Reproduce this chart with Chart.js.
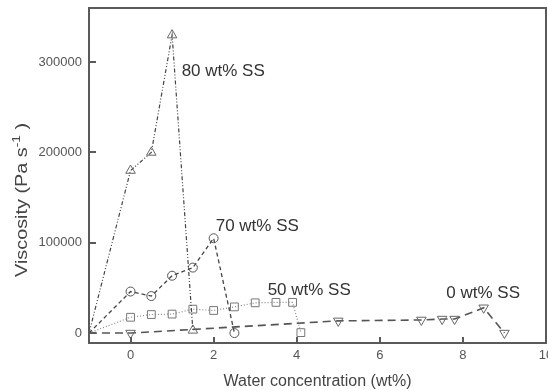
<!DOCTYPE html>
<html>
<head>
<meta charset="utf-8">
<script src="https://cdn.jsdelivr.net/npm/chart.js@4.4.1/dist/chart.umd.min.js"></script>
<style>
	html, body { margin: 0; padding: 0; background: #fff; overflow: hidden; }
	#wrap { width: 548px; height: 391px; overflow: hidden; }
</style>
</head>
<body>
<div id="wrap"><canvas id="mychart" width="560" height="391"></canvas></div>
<script>
// tick labels
const xTicks = [0, 2, 4, 6, 8, 10];
const yTicks = [0, 100000, 200000, 300000];

const seriesNames = ['80 wt% SS', '70 wt% SS', '50 wt% SS', '0 wt% SS'];

// 80 wt% SS
const x80 = [-1, 0, 0.5, 1.0, 1.5];
const y80 = [0, 180000, 200000, 330000, 3000];

// 70 wt% SS
const x70 = [-1, 0, 0.5, 1.0, 1.5, 2.0, 2.5];
const y70 = [0, 46000, 41000, 63500, 72500, 105000, 0];

// 50 wt% SS
const x50 = [-1, 0, 0.5, 1.0, 1.5, 2.0, 2.5, 3.0, 3.5, 3.9, 4.1];
const y50 = [0, 17500, 20500, 21000, 26500, 25000, 29000, 33500, 34000, 34000, 500];

// 0 wt% SS
const x0 = [-1, 0, 5, 7, 7.5, 7.8, 8.5, 9.0];
const y0 = [0, 0, 13500, 14500, 15500, 15500, 28000, 0];

function toPoints(xs, ys) {
	return xs.map((x, i) => ({ x: x, y: ys[i] }));
}

// 첫 점(-1, 0)은 마커 없음
const markerSize = (r) => (ctx) => ctx.dataIndex === 0 ? 0 : r;

const fontName = '"Liberation Sans", Arial, sans-serif';

// 테두리 + 안쪽 눈금
const framePlugin = {
	id: 'frame',
	afterDatasetsDraw(chart) {
		const { ctx, chartArea } = chart;
		const xs = chart.scales.x;
		const ys = chart.scales.y;
		ctx.save();
		ctx.strokeStyle = '#5a5a5a';
		ctx.lineWidth = 2;
		ctx.strokeRect(chartArea.left, chartArea.top, chartArea.right - chartArea.left, chartArea.bottom - chartArea.top);
		ctx.beginPath();
		xTicks.forEach(v => {
			const px = Math.round(xs.getPixelForValue(v));
			ctx.moveTo(px, chartArea.bottom);
			ctx.lineTo(px, chartArea.bottom - 6);
		});
		yTicks.forEach(v => {
			const py = Math.round(ys.getPixelForValue(v));
			ctx.moveTo(chartArea.left, py);
			ctx.lineTo(chartArea.left + 7, py);
		});
		ctx.stroke();
		ctx.restore();
	}
};

// 시리즈 이름 (데이터 좌표)
const namePlugin = {
	id: 'names',
	afterDatasetsDraw(chart) {
		const spots = [[1.23, 290000], [2.05, 118500], [3.3, 47600], [7.6, 44300]];
		const { ctx } = chart;
		ctx.save();
		ctx.font = `17px ${fontName}`;
		ctx.fillStyle = '#333';
		ctx.textAlign = 'left';
		ctx.textBaseline = 'middle';
		seriesNames.forEach((name, i) => {
			const px = chart.scales.x.getPixelForValue(spots[i][0]);
			const py = chart.scales.y.getPixelForValue(spots[i][1]);
			ctx.fillText(name, px, py);
		});
		ctx.restore();
	}
};

// y축 제목 (위첨자 포함)
const yTitlePlugin = {
	id: 'yTitle',
	afterDraw(chart) {
		const { ctx } = chart;
		const main = 'Viscosity (Pa s';
		const sup = '-1';
		const tail = ' )';
		ctx.save();
		ctx.font = `16px ${fontName}`;
		const w1 = ctx.measureText(main).width;
		const w3 = ctx.measureText(tail).width;
		ctx.font = `11px ${fontName}`;
		const w2 = ctx.measureText(sup).width;
		const total = w1 + w2 + w3;
		const sx = 154 / total;
		ctx.translate(27, 277);
		ctx.rotate(-Math.PI / 2);
		ctx.scale(sx, 1);
		ctx.fillStyle = '#444';
		ctx.textAlign = 'left';
		ctx.textBaseline = 'alphabetic';
		ctx.font = `16px ${fontName}`;
		ctx.fillText(main, 0, 0);
		ctx.font = `11px ${fontName}`;
		ctx.fillText(sup, w1, -7);
		ctx.font = `16px ${fontName}`;
		ctx.fillText(tail, w1 + w2, 0);
		ctx.restore();
	}
};

const mychart = document.querySelector('#mychart');
new Chart(mychart, {
	type: 'line',
	data: {
		datasets: [{
			label: seriesNames[0],
			data: toPoints(x80, y80),
			borderColor: '#444',
			borderWidth: 1.2,
			borderDash: [4, 2, 1, 2, 1, 2],
			pointStyle: 'triangle',
			pointRadius: markerSize(5.5),
			pointBorderColor: '#666',
			pointBackgroundColor: 'rgba(0,0,0,0)',
			pointBorderWidth: 1
		}, {
			label: seriesNames[1],
			data: toPoints(x70, y70),
			borderColor: '#444',
			borderWidth: 1.3,
			borderDash: [4, 3],
			pointStyle: 'circle',
			pointRadius: markerSize(4.5),
			pointBorderColor: '#555',
			pointBackgroundColor: 'rgba(0,0,0,0)',
			pointBorderWidth: 1
		}, {
			label: seriesNames[2],
			data: toPoints(x50, y50),
			borderColor: '#888',
			borderWidth: 1.2,
			borderDash: [1, 2],
			pointStyle: 'rect',
			pointRadius: markerSize(5.5),
			pointBorderColor: '#777',
			pointBackgroundColor: 'rgba(0,0,0,0)',
			pointBorderWidth: 1
		}, {
			label: seriesNames[3],
			data: toPoints(x0, y0),
			borderColor: '#555',
			borderWidth: 1.6,
			borderDash: [8, 5],
			pointStyle: 'triangle',
			pointRotation: 180,
			pointRadius: markerSize(5.5),
			pointBorderColor: '#666',
			pointBackgroundColor: 'rgba(0,0,0,0)',
			pointBorderWidth: 1
		}]
	},
	options: {
		responsive: false,
		animation: false,
		layout: {
			padding: { top: 0, right: 14, left: 0, bottom: 0 }
		},
		plugins: {
			legend: { display: false },
			tooltip: { enabled: false }
		},
		scales: {
			x: {
				type: 'linear',
				min: -1,
				max: 10,
				afterBuildTicks: (s) => { s.ticks = xTicks.map(v => ({ value: v })); },
				afterFit: (s) => { s.height = 48; },
				grid: { display: false, drawTicks: false },
				border: { display: false },
				ticks: {
					color: '#555',
					font: { size: 13, family: fontName },
					padding: 5,
					maxRotation: 0,
					callback: (v) => String(v)
				},
				title: {
					display: true,
					text: 'Water concentration (wt%)',
					color: '#444',
					font: { size: 16, family: fontName },
					padding: 0
				}
			},
			y: {
				type: 'linear',
				min: -11000,
				max: 360000,
				afterBuildTicks: (s) => { s.ticks = yTicks.map(v => ({ value: v })); },
				afterFit: (s) => { s.width = 89; s.paddingTop = 8; s.paddingBottom = 0; },
				grid: { display: false, drawTicks: false },
				border: { display: false },
				ticks: {
					color: '#555',
					font: { size: 13, family: fontName },
					padding: 7,
					callback: (v) => String(v)
				}
			}
		}
	},
	plugins: [framePlugin, namePlugin, yTitlePlugin]
});
</script>
</body>
</html>
